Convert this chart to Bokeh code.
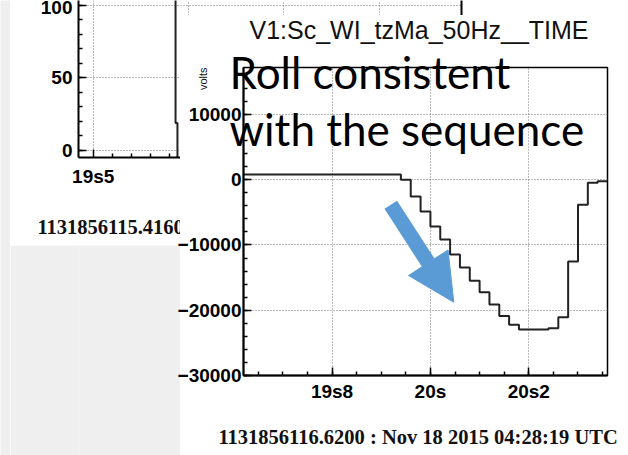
import math
from bokeh.plotting import figure
from bokeh.layouts import row, column
from bokeh.models import FixedTicker, Label, Arrow, NormalHead, Range1d, LinearAxis
from bokeh.core.enums import CoordinateUnits
from bokeh.embed import file_html
from bokeh.resources import INLINE

# ---------------- data ----------------
# main histogram: V1:Sc_WI_tzMa_50Hz__TIME, 0.02 s bins (seconds after 04:28 UTC)
bin_left = [19.62, 19.64, 19.66, 19.68, 19.70, 19.72, 19.74, 19.76, 19.78, 19.80,
            19.82, 19.84, 19.86, 19.88, 19.90, 19.92, 19.94, 19.96, 19.98, 20.00,
            20.02, 20.04, 20.06, 20.08, 20.10, 20.12, 20.14, 20.16, 20.18, 20.20,
            20.22, 20.24, 20.26, 20.28, 20.30, 20.32, 20.34]
last_edge = 20.36
volts = [800, 800, 800, 800, 800, 800, 800, 800, 800, 800,
         800, 800, 800, 800, 800, 800, 0, -2560, -4860, -7160,
         -9150, -11450, -13440, -15480, -17230, -19110, -20900, -22220, -22940, -22940,
         -22940, -22740, -21060, -12520, -3830, -460, -215]

x_major = [19.8, 20.0, 20.2]
x_labels = ["19s8", "20s", "20s2"]
x_minor = [19.65, 19.70, 19.75, 19.80, 19.85, 19.90, 19.95, 20.00, 20.05, 20.10,
           20.15, 20.20, 20.25, 20.30, 20.35]
y_major = [-30000, -20000, -10000, 0, 10000]
y_minor = [-30000, -28000, -26000, -24000, -22000, -20000, -18000, -16000, -14000,
           -12000, -10000, -8000, -6000, -4000, -2000, 0, 2000, 4000, 6000, 8000,
           10000, 12000, 14000, 16000]

# background (partially hidden) histogram
bg_edges = [19.40, 19.932, 19.942, 19.96]
bg_counts = [130, 19, -30]
bg_x_major = [19.5]
bg_x_labels = ["19s5"]
bg_x_minor = [19.6, 19.7, 19.8, 19.9]
bg_y_major = [0, 50, 100]
bg_y_minor = [0, 10, 20, 30, 40, 50, 60, 70, 80, 90, 100]
bg_grid_x_strip = [20.0, 20.5, 21.0]

title_text = "V1:Sc_WI_tzMa_50Hz__TIME"
time_text = "1131856116.6200 : Nov 18 2015 04:28:19 UTC"
bg_time_text = "1131856115.4160 : Nov 18 2015 04:28:18 UTC"
note_lines = ["Roll consistent", "with the sequence"]

BLUE = "#5b9bd5"
GRAY = "#efefef"
UNITS = "canvas" if "canvas" in CoordinateUnits else "screen"


def style_axes(p, standoff_x, standoff_y):
    for ax in (p.xaxis, p.yaxis):
        ax.axis_line_width = 2
        ax.axis_line_color = "black"
        ax.major_tick_in = 8
        ax.major_tick_out = 0
        ax.minor_tick_in = 4
        ax.minor_tick_out = 0
        ax.major_tick_line_color = "black"
        ax.minor_tick_line_color = "black"
        ax.major_tick_line_width = 1.5
        ax.minor_tick_line_width = 1.5
        ax.major_label_text_font = "Liberation Sans"
        ax.major_label_text_font_style = "bold"
        ax.major_label_text_font_size = "19px"
        ax.major_label_text_color = "black"
    p.xaxis.major_label_standoff = standoff_x
    p.yaxis.major_label_standoff = standoff_y
    p.grid.grid_line_color = "#777777"
    p.grid.grid_line_dash = "1 2"
    p.grid.grid_line_width = 1


def canvas_label(p, x, y, text, place=None, **kw):
    lab = Label(x=x, y=y, x_units=UNITS, y_units=UNITS, text=text, **kw)
    if place is None:
        p.add_layout(lab)
    else:
        p.add_layout(lab, place)


def filler(w, h):
    f = figure(width=w, height=h, output_backend="svg", toolbar_location=None,
               x_axis_location=None, y_axis_location=None, outline_line_color=None,
               background_fill_color=GRAY, border_fill_color=GRAY,
               min_border_left=0, min_border_right=0, min_border_top=0, min_border_bottom=0)
    f.grid.visible = False
    return f


# ---------------- background plot (left) ----------------
f1 = figure(width=170, height=245, x_range=Range1d(19.4229, 19.958), y_range=Range1d(-4.83, 103.4),
            output_backend="svg", toolbar_location=None,
            min_border_left=68, min_border_right=0, min_border_top=0, min_border_bottom=88,
            outline_line_color=None, background_fill_color="white", border_fill_color="white")
f1.step(x=bg_edges, y=bg_counts + [bg_counts[-1]], mode="after", line_color="#222222", line_width=2)
f1.xaxis.ticker = FixedTicker(ticks=bg_x_major, minor_ticks=bg_x_minor)
f1.xaxis.major_label_overrides = dict(zip(bg_x_major, bg_x_labels))
f1.yaxis.ticker = FixedTicker(ticks=bg_y_major, minor_ticks=bg_y_minor)
style_axes(f1, 8, 6)
canvas_label(f1, 27, 226, bg_time_text, place="below", text_font="Liberation Serif",
             text_font_style="bold", text_font_size="20.5px", text_color="#111111",
             text_align="left", text_baseline="middle")

# thin strip above the main panel: continuation of the background plot
strip = figure(width=448, height=15, x_range=Range1d(19.958, 21.432), y_range=Range1d(93.1, 103.4),
               output_backend="svg", toolbar_location=None, x_axis_location=None, y_axis_location=None,
               min_border_left=0, min_border_right=167, min_border_top=0, min_border_bottom=0,
               outline_line_color=None, background_fill_color="white", border_fill_color="white")
strip.xgrid.ticker = FixedTicker(ticks=bg_grid_x_strip)
strip.ygrid.ticker = FixedTicker(ticks=[100])
strip.grid.grid_line_color = "#777777"
strip.grid.grid_line_dash = "1 2"
strip.add_layout(LinearAxis(ticker=FixedTicker(ticks=[]), axis_line_width=2, axis_line_color="black",
                            major_tick_line_color=None, minor_tick_line_color=None,
                            major_label_text_font_size="0px"), "right")

# ---------------- main plot ----------------
p = figure(width=465, height=455, x_range=Range1d(19.62, 20.36), y_range=Range1d(-30000, 17200),
           output_backend="svg", toolbar_location=None,
           min_border_left=80, min_border_right=21, min_border_top=67, min_border_bottom=80,
           background_fill_color="white", border_fill_color=None,
           outline_line_color="black", outline_line_width=1.5)
p.step(x=bin_left + [last_edge], y=volts + [volts[-1]], mode="after",
       line_color="#222222", line_width=2)
p.xaxis.ticker = FixedTicker(ticks=x_major, minor_ticks=x_minor)
p.xaxis.major_label_overrides = dict(zip(x_major, x_labels))
p.yaxis.ticker = FixedTicker(ticks=y_major, minor_ticks=y_minor)
style_axes(p, 5, 2)

p.add_layout(Arrow(x_start=19.9194, y_start=-3830, x_end=20.0475, y_end=-18770,
                   line_color=BLUE, line_width=15, line_cap="butt",
                   end=NormalHead(size=47, fill_color=BLUE, line_color=BLUE, line_width=1)))

# ---------------- transparent text overlay (page pixel coordinates) ----------------
ov = figure(width=628, height=455, x_range=Range1d(0, 628), y_range=Range1d(455, 0),
            output_backend="svg", toolbar_location=None, x_axis_location=None, y_axis_location=None,
            min_border_left=0, min_border_right=0, min_border_top=0, min_border_bottom=0,
            outline_line_color=None, background_fill_color=None, border_fill_color=None)
ov.grid.visible = False

canvas_label(ov, 418.5, 29, title_text, text_font="Liberation Sans", text_font_size="25px",
             text_color="#111111", text_align="center", text_baseline="middle")
canvas_label(ov, 202, 67, "volts", text_font="Liberation Sans", text_font_size="11px",
             text_color="#111111", angle=math.pi / 2, text_align="right", text_baseline="middle")
canvas_label(ov, 218, 436, time_text, text_font="Liberation Serif", text_font_style="bold",
             text_font_size="20.5px", text_color="#111111", text_align="left", text_baseline="middle")
canvas_label(ov, 229, 71, note_lines[0], text_font="Lato", text_font_size="44px",
             text_color="black", text_align="left", text_baseline="middle")
canvas_label(ov, 229, 128, note_lines[1], text_font="Lato", text_font_size="44px",
             text_color="black", text_align="left", text_baseline="middle")

strip_box = column(strip, styles={"position": "absolute", "left": "180px", "top": "0px"})
ov_box = column(ov, styles={"position": "absolute", "left": "0px", "top": "0px",
                            "pointer-events": "none"})
layout = row(column(filler(10, 455)), column(f1, filler(170, 210)),
             column(p, styles={"margin-left": "-17px"}), strip_box, ov_box,
             styles={"position": "relative"})

open("out.html", "w").write(file_html(layout, INLINE))
